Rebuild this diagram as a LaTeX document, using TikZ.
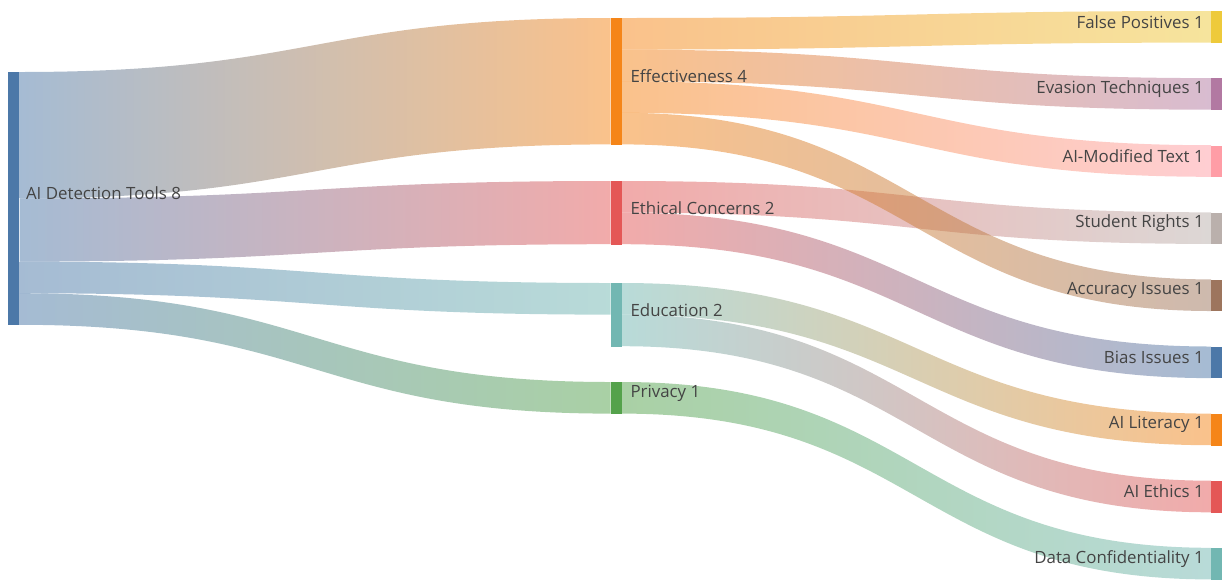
\documentclass[tikz,border=0pt]{standalone}
\usepackage{fontspec}
\setmainfont{Open Sans}
\usepackage{tikz}
\usetikzlibrary{calc}
\usetikzlibrary{positioning}

\definecolor{cblue}{HTML}{4C78A8}
\definecolor{corange}{HTML}{F58518}
\definecolor{cred}{HTML}{E45756}
\definecolor{cteal}{HTML}{72B7B2}
\definecolor{cgreen}{HTML}{54A24B}
\definecolor{cyellow}{HTML}{EECA3B}
\definecolor{cpurple}{HTML}{B279A2}
\definecolor{cpink}{HTML}{FF9DA6}
\definecolor{cbrown}{HTML}{9D755D}
\definecolor{cgray}{HTML}{BAB0AC}
\definecolor{txtgray}{HTML}{444444}

\newcommand{\sankeylink}[7]{%
  \shade[left color=#6, right color=#7, fill opacity=.5]
    ($(#1.north east)+(0,{#2*31.6})$) .. controls +(295,0) and +(-295,0) .. ($(#3.north west)+(0,{#4*31.6})$)
    -- ($(#3.north west)+(0,{(#4+#5)*31.6})$) .. controls +(-295,0) and +(295,0) .. ($(#1.north east)+(0,{(#2+#5)*31.6})$)
    -- cycle;}

\begin{document}
\begin{tikzpicture}[x=0.02cm, y=-0.02cm,
    bar/.style={rectangle, inner sep=0pt, minimum width=0.22cm, minimum height=#1*0.632cm, anchor=north west},
    lbl/.style={inner sep=0pt, text=txtgray, font=\fontsize{9.6}{11}\selectfont, yshift=3pt}]
            \useasboundingbox (0,0) rectangle (1222,579);

            \node[bar=8, fill=cblue]      (ai)   at (8,72) {};
            \node[bar=4, fill=corange]    (eff)  at (610.5,18) {};
            \node[bar=2, fill=cred]       (eth)  at (610.5,181) {};
            \node[bar=2, fill=cteal]      (edu)  at (610.5,283) {};
            \node[bar=1, fill=cgreen]     (pri)  at (610.5,382) {};
            \node[bar=1, fill=cyellow]    (fp)   at (1211,11) {};
            \node[bar=1, fill=cpurple]    (ev)   at (1211,78.1) {};
            \node[bar=1, fill=cpink]      (mod)  at (1211,145.2) {};
            \node[bar=1, fill=cgray]      (sr)   at (1211,212.3) {};
            \node[bar=1, fill=cbrown]     (acc)  at (1211,279.4) {};
            \node[bar=1, fill=cblue]      (bias) at (1211,346.5) {};
            \node[bar=1, fill=corange]    (lit)  at (1211,413.6) {};
            \node[bar=1, fill=cred]       (aie)  at (1211,480.7) {};
            \node[bar=1, fill=cteal]      (dc)   at (1211,547.8) {};

            \sankeylink{ai}{0}{eff}{0}{4}{cblue}{corange}
            \sankeylink{ai}{4}{eth}{0}{2}{cblue}{cred}
            \sankeylink{ai}{6}{edu}{0}{1}{cblue}{cteal}
            \sankeylink{ai}{7}{pri}{0}{1}{cblue}{cgreen}
            \sankeylink{eff}{0}{fp}{0}{1}{corange}{cyellow}
            \sankeylink{eff}{1}{ev}{0}{1}{corange}{cpurple}
            \sankeylink{eff}{2}{mod}{0}{1}{corange}{cpink}
            \sankeylink{eth}{0}{sr}{0}{1}{cred}{cgray}
            \sankeylink{eff}{3}{acc}{0}{1}{corange}{cbrown}
            \sankeylink{eth}{1}{bias}{0}{1}{cred}{cblue}
            \sankeylink{edu}{0}{lit}{0}{1}{cteal}{corange}
            \sankeylink{edu}{1}{aie}{0}{1}{cteal}{cred}
            \sankeylink{pri}{0}{dc}{0}{1}{cgreen}{cteal}

            \node[lbl, anchor=west] (tai)   at ($(ai.east)+(6,0)$)   {AI Detection Tools 8};
            \node[lbl, anchor=west] (teff)  at ($(eff.east)+(8,0)$)  {Effectiveness 4};
            \node[lbl, anchor=west] (teth)  at ($(eth.east)+(8,0)$)  {Ethical Concerns 2};
            \node[lbl, anchor=west] (tedu)  at ($(edu.east)+(8,0)$)  {Education 2};
            \node[lbl, anchor=west] (tpri)  at ($(pri.east)+(8,0)$)  {Privacy 1};
            \node[lbl, anchor=east] (tfp)   at ($(fp.west)+(-7,0)$)   {False Positives 1};
            \node[lbl, anchor=east] (tev)   at ($(ev.west)+(-7,0)$)   {Evasion Techniques 1};
            \node[lbl, anchor=east] (tmod)  at ($(mod.west)+(-7,0)$)  {AI-Modified Text 1};
            \node[lbl, anchor=east] (tsr)   at ($(sr.west)+(-7,0)$)   {Student Rights 1};
            \node[lbl, anchor=east] (tacc)  at ($(acc.west)+(-7,0)$)  {Accuracy Issues 1};
            \node[lbl, anchor=east] (tbias) at ($(bias.west)+(-7,0)$) {Bias Issues 1};
            \node[lbl, anchor=east] (tlit)  at ($(lit.west)+(-7,0)$)  {AI Literacy 1};
            \node[lbl, anchor=east] (taie)  at ($(aie.west)+(-7,0)$)  {AI Ethics 1};
            \node[lbl, anchor=east] (tdc)   at ($(dc.west)+(-7,0)$)   {Data Confidentiality 1};

            \end{tikzpicture}
\end{document}
